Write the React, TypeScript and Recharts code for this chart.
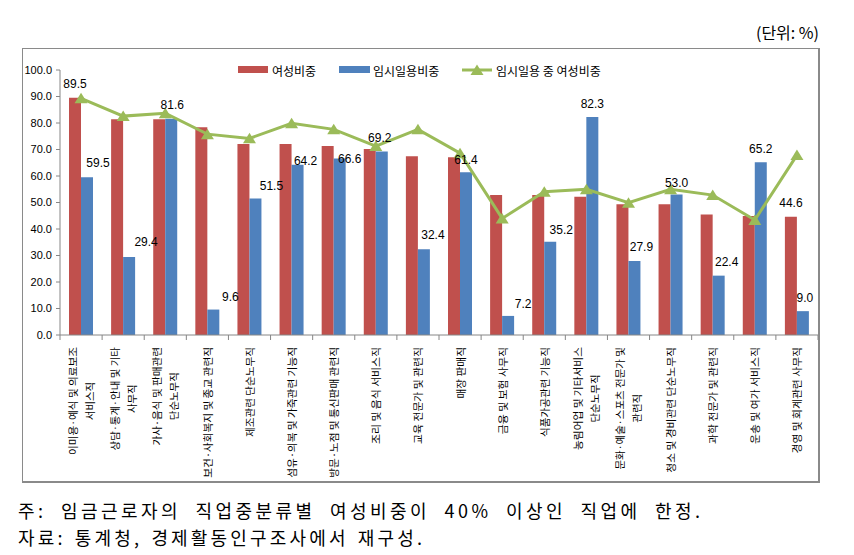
import React from "react";
import { ComposedChart, Bar, Line, XAxis, YAxis, LabelList } from "recharts";

const categories = [
  "이미용·예식 및 의료보조\n서비스직",
  "상담·통계·안내 및 기타\n사무직",
  "가사·음식 및 판매관련\n단순노무직",
  "보건·사회복지 및 종교 관련직",
  "제조관련 단순노무직",
  "섬유·의복 및 가죽관련 기능직",
  "방문·노점 및 통신판매 관련직",
  "조리 및 음식 서비스직",
  "교육 전문가 및 관련직",
  "매장 판매직",
  "금융 및 보험 사무직",
  "식품가공관련 기능직",
  "농림어업 및 기타서비스\n단순노무직",
  "문화·예술·스포츠 전문가 및\n관련직",
  "청소 및 경비관련 단순노무직",
  "과학 전문가 및 관련직",
  "운송 및 여가 서비스직",
  "경영 및 회계관련 사무직",
];

// 여성비중
const femaleShare = [89.5, 81.4, 81.4, 78.4, 72.1, 72.1, 71.3, 70.2, 67.5, 67.1, 52.8, 52.8, 52.2, 49.3, 49.3, 45.5, 44.9, 44.6];
// 임시일용비중
const tempShare = [59.5, 29.4, 81.6, 9.6, 51.5, 64.2, 66.6, 69.2, 32.4, 61.4, 7.2, 35.2, 82.3, 27.9, 53.0, 22.4, 65.2, 9.0];
// 임시일용 중 여성비중
const femaleInTemp = [89.3, 82.6, 83.7, 75.8, 74.2, 79.9, 77.6, 71.3, 77.6, 68.6, 44.0, 54.1, 55.0, 49.9, 55.0, 52.8, 43.4, 67.9];

const yTicks = [0, 10, 20, 30, 40, 50, 60, 70, 80, 90, 100];

// where the value labels sit relative to the top of each blue bar (the source chart had them nudged by hand)
const tempLabelShift = [
  [11, -14], [17, -15], [1, -14], [17, -13], [16, -13], [8, -4], [10, 0], [-2, -14], [9, -14],
  [0, -12], [15, -12], [11, -12], [0, -13], [7, -14], [0, -12], [8, -14], [0, -13], [2, -13],
];

const RED = "#C0504D";
const BLUE = "#4F81BD";
const GREEN = "#9BBB59";
const AXIS = "#868686";
const FONT = "'Liberation Sans', 'Noto Sans CJK KR', sans-serif";
const KFONT = "'Noto Sans CJK KR', sans-serif";

const data = categories.map((name, i) => ({
  name,
  female: femaleShare[i],
  temp: tempShare[i],
  femaleTemp: femaleInTemp[i],
}));

const PLOT_W = 758;
const BAND = PLOT_W / categories.length;

// rough run length of a rotated label line, as in the original (~9.6px per syllable)
function lineLength(s: string) {
  let w = 0;
  for (const ch of s) {
    if (ch === " ") w += 3.5;
    else if (ch === "·") w += 5;
    else w += 9.6;
  }
  return w;
}

function CategoryTick(props: any) {
  const { x, y, index } = props;
  const lines = categories[index].split("\n");
  const lens = lines.map(lineLength);
  const maxW = Math.max(...lens);
  const midY = y + 7 + maxW / 2;
  const gap = 17;
  return (
    <g>
      <line x1={x - BAND / 2} x2={x - BAND / 2} y1={y - 5} y2={y} stroke={AXIS} />
      {index === categories.length - 1 && (
        <line x1={x + BAND / 2} x2={x + BAND / 2} y1={y - 5} y2={y} stroke={AXIS} />
      )}
      {lines.map((l, i) => (
        <text
          key={i}
          transform={`rotate(-90 ${x} ${midY})`}
          x={x}
          y={midY + (i - (lines.length - 1) / 2) * gap}
          textAnchor="middle"
          dominantBaseline="central"
          fontSize={10}
          fontFamily={KFONT}
          fill="#000"
          textLength={lens[i]}
          lengthAdjust="spacingAndGlyphs"
        >
          {l}
        </text>
      ))}
    </g>
  );
}

function TempLabel(props: any) {
  const { x, y, width, index, value } = props;
  const [dx, dy] = tempLabelShift[index];
  return (
    <text x={x + width / 2 + dx} y={y + dy} textAnchor="middle" dominantBaseline="central" fontSize={12} fontFamily={FONT} fill="#000">
      {Number(value).toFixed(1)}
    </text>
  );
}

function FemaleLabel(props: any) {
  const { x, y, width, index, value } = props;
  if (index !== 0 && index !== categories.length - 1) return null;
  return (
    <text x={x + width / 2} y={y - 14} textAnchor="middle" dominantBaseline="central" fontSize={12} fontFamily={FONT} fill="#000">
      {Number(value).toFixed(1)}
    </text>
  );
}

function Triangle(props: any) {
  const { cx, cy } = props;
  if (cx == null || cy == null) return null;
  return <path d={`M${cx},${cy - 5.5} L${cx + 6.5},${cy + 5} L${cx - 6.5},${cy + 5} Z`} fill={GREEN} />;
}

function LegendRow() {
  return (
    <svg width={400} height={20} style={{ position: "absolute", left: 236, top: 60 }}>
      <rect x={2} y={6} width={30} height={7} fill={RED} />
      <text x={36} y={10} fontSize={12} fontFamily={KFONT} dominantBaseline="central">여성비중</text>
      <rect x={103} y={6} width={31} height={7} fill={BLUE} />
      <text x={137} y={10} fontSize={12} fontFamily={KFONT} dominantBaseline="central">임시일용비중</text>
      <line x1={226} x2={256} y1={10} y2={10} stroke={GREEN} strokeWidth={3} />
      <path d="M241,4.5 L247.5,15 L234.5,15 Z" fill={GREEN} />
      <text x={260} y={10} fontSize={12} fontFamily={KFONT} dominantBaseline="central">임시일용 중 여성비중</text>
    </svg>
  );
}

function Notes() {
  return (
    <svg width={854} height={60} style={{ position: "absolute", left: 0, top: 490 }}>
      <text
        x={18}
        y={20}
        fontSize={18}
        fontFamily={KFONT}
        dominantBaseline="central"
        wordSpacing={7}
        textLength={682}
        lengthAdjust="spacing"
      >
        주: 임금근로자의 직업중분류별 여성비중이 40% 이상인 직업에 한정.
      </text>
      <text
        x={18}
        y={47}
        fontSize={18}
        fontFamily={KFONT}
        dominantBaseline="central"
        wordSpacing={2}
        textLength={404}
        lengthAdjust="spacing"
      >
        자료: 통계청, 경제활동인구조사에서 재구성.
      </text>
    </svg>
  );
}

export default function App() {
  return (
    <div style={{ position: "absolute", left: 0, top: 0, width: 854, height: 555, background: "#fff", fontFamily: KFONT }}>
      <div style={{ position: "absolute", right: 35, top: 20, fontSize: 16, color: "#000" }}>(단위: %)</div>
      <div
        style={{
          position: "absolute",
          left: 22,
          top: 48,
          width: 795,
          height: 432,
          borderStyle: "solid",
          borderColor: "#8a8a8a",
          borderWidth: "1px 2px 2px 1px",
        }}
      >
        <ComposedChart width={795} height={432} data={data} margin={{ top: 21, right: 0, bottom: 0, left: 0 }} barGap={0}>
          <XAxis
            dataKey="name"
            interval={0}
            height={146}
            tickLine={false}
            tickSize={5}
            tickMargin={0}
            axisLine={{ stroke: AXIS }}
            tick={<CategoryTick />}
          />
          <YAxis
            width={37}
            domain={[0, 100]}
            ticks={yTicks}
            tickFormatter={(v) => Number(v).toFixed(1)}
            tick={{ fontSize: 11, fill: "#000", fontFamily: FONT }}
            tickSize={4}
            tickMargin={4}
            axisLine={{ stroke: AXIS }}
            tickLine={{ stroke: AXIS }}
          />
          <Bar dataKey="female" name="여성비중" fill={RED} barSize={12} isAnimationActive={false}>
            <LabelList dataKey="female" content={<FemaleLabel />} />
          </Bar>
          <Bar dataKey="temp" name="임시일용비중" fill={BLUE} barSize={12} isAnimationActive={false}>
            <LabelList dataKey="temp" content={<TempLabel />} />
          </Bar>
          <Line
            dataKey="femaleTemp"
            name="임시일용 중 여성비중"
            type="linear"
            stroke={GREEN}
            strokeWidth={3}
            dot={<Triangle />}
            activeDot={false}
            isAnimationActive={false}
          />
        </ComposedChart>
      </div>
      <LegendRow />
      <Notes />
    </div>
  );
}
